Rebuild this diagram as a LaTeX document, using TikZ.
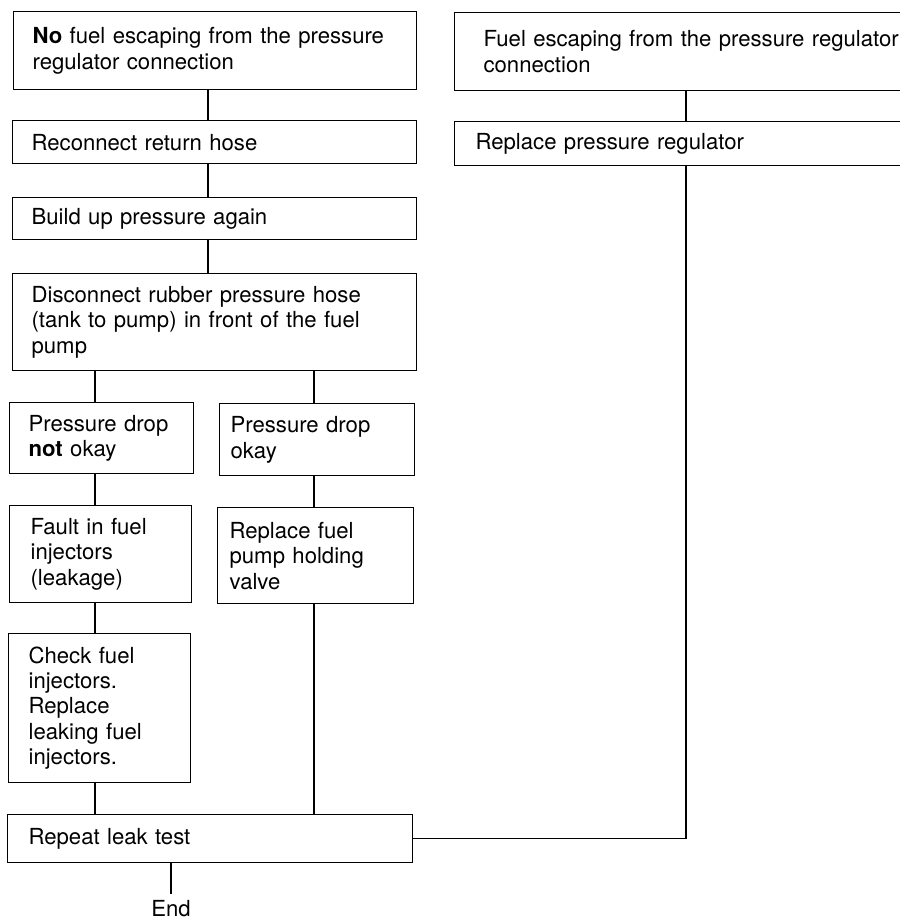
\documentclass[tikz,border=0pt]{standalone}
\usepackage{fontspec}
\setmainfont{TeX Gyre Heros}
\usepackage{tikz}

\tikzset{
  flowbox/.style={draw, rectangle, anchor=north west, align=left, inner ysep=0pt,
    line width=0.7pt, font=\fontsize{12.6}{14.5}\selectfont},
  link/.style={line width=0.7pt},
}

\begin{document}
\begin{tikzpicture}[x=0.02cm, y=-0.02cm]
\useasboundingbox (0,0) rectangle (899,922);

% Define columns for the connectors
\coordinate (colA) at (208,0);
\coordinate (colL) at (95,0);
\coordinate (colR) at (314,0);
\coordinate (colE) at (171,0);
\coordinate (colQ) at (686,0);

% Main column
\node[flowbox, text width=7.30cm, inner xsep=0.38cm, minimum height=1.56cm] (nofuel) at (13,11)
  {\textbf{No} fuel escaping from the pressure\\regulator connection};
\node[flowbox, text width=7.32cm, inner xsep=0.38cm, minimum height=0.86cm] (reconnect) at (12,120)
  {Reconnect return hose};
\node[flowbox, text width=7.32cm, inner xsep=0.38cm, minimum height=0.84cm] (buildup) at (12,197)
  {Build up pressure again};
\node[flowbox, text width=7.32cm, inner xsep=0.38cm, minimum height=1.94cm] (disconnect) at (12,273)
  {Disconnect rubber pressure hose\\(tank to pump) in front of the fuel\\pump};

% Two branches
\node[flowbox, text width=2.92cm, inner xsep=0.38cm, minimum height=1.42cm] (notok) at (9,402)
  {Pressure drop\\\textbf{not} okay};
\node[flowbox, text width=3.46cm, inner xsep=0.22cm, minimum height=1.44cm] (ok) at (219,403)
  {Pressure drop\\okay};
\node[flowbox, text width=2.80cm, inner xsep=0.42cm, minimum height=1.94cm] (fault) at (9,505)
  {Fault in fuel\\injectors\\(leakage)};
\node[flowbox, text width=3.44cm, inner xsep=0.24cm, minimum height=1.92cm] (valve) at (217,507)
  {Replace fuel\\pump holding\\valve};
\node[flowbox, text width=2.84cm, inner xsep=0.40cm, minimum height=2.98cm] (check) at (8,633)
  {Check fuel\\injectors.\\Replace\\leaking fuel\\injectors.};
\node[flowbox, text width=7.26cm, inner xsep=0.42cm, minimum height=0.96cm] (repeat) at (7,814)
  {Repeat leak test};

% Right column
\node[flowbox, text width=8.70cm, inner xsep=0.58cm, minimum height=1.56cm] (fuelesc) at (454,12)
  {Fuel escaping from the pressure regulator\\connection};
\node[flowbox, text width=8.86cm, inner xsep=0.42cm, minimum height=0.88cm] (replreg) at (454,121)
  {Replace pressure regulator};

% End label
\node[anchor=base, inner sep=0pt, font=\fontsize{12.6}{14.5}\selectfont] (endlabel) at (171,916) {End};

% Draw connectors
\draw[link] (nofuel.south -| colA) -- (reconnect.north -| colA);
\draw[link] (reconnect.south -| colA) -- (buildup.north -| colA);
\draw[link] (buildup.south -| colA) -- (disconnect.north -| colA);
\draw[link] (disconnect.south -| colL) -- (notok.north -| colL);
\draw[link] (disconnect.south -| colR) -- (ok.north -| colR);
\draw[link] (notok.south -| colL) -- (fault.north -| colL);
\draw[link] (ok.south -| colR) -- (valve.north -| colR);
\draw[link] (fault.south -| colL) -- (check.north -| colL);
\draw[link] (check.south -| colL) -- (repeat.north -| colL);
\draw[link] (valve.south -| colR) -- (repeat.north -| colR);
\draw[link] (fuelesc.south -| colQ) -- (replreg.north -| colQ);
\draw[link] (replreg.south -| colQ) |- (repeat.east);
\draw[link, shorten >=3pt] (repeat.south -| colE) -- (endlabel.north);

\end{tikzpicture}
\end{document}
